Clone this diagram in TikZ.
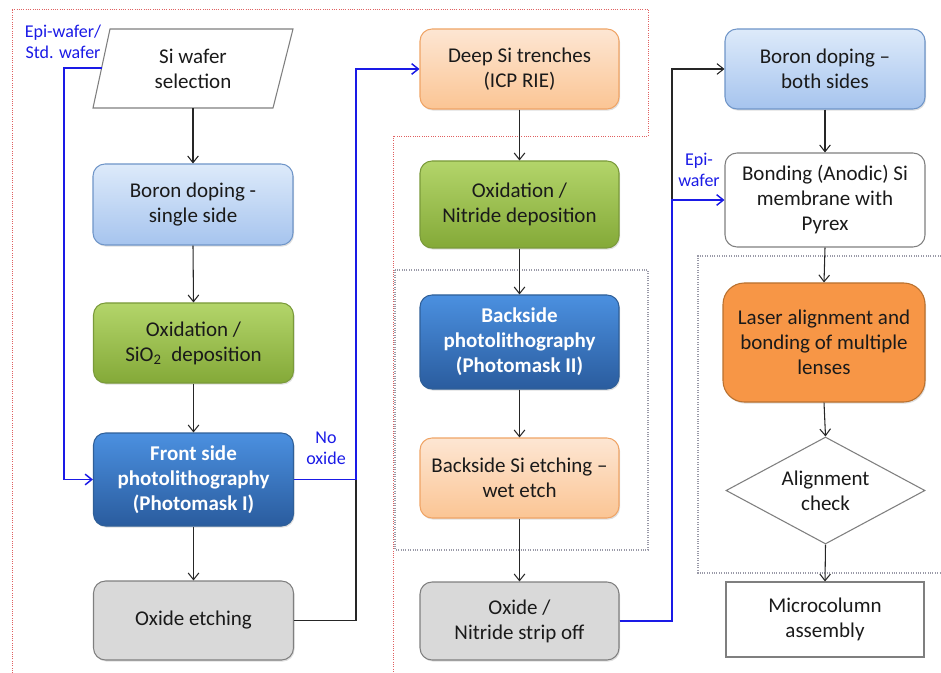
\documentclass[tikz,border=0pt]{standalone}
\usepackage{fontspec}
\setmainfont{Carlito}
\usetikzlibrary{arrows.meta,shapes.geometric,shadows}
\definecolor{lbTop}{HTML}{DDEAFA}
\definecolor{lbBot}{HTML}{A6C4EE}
\definecolor{lbLine}{HTML}{6F95C8}
\definecolor{grTop}{HTML}{B3D56A}
\definecolor{grBot}{HTML}{84A938}
\definecolor{grLine}{HTML}{7A9A3A}
\definecolor{dbTop}{HTML}{4B90E0}
\definecolor{dbBot}{HTML}{2A5C9E}
\definecolor{dbLine}{HTML}{2F5F98}
\definecolor{pcTop}{HTML}{FDE6D3}
\definecolor{pcBot}{HTML}{FBC594}
\definecolor{pcLine}{HTML}{EFA466}
\definecolor{gyFill}{HTML}{D9D9D9}
\definecolor{gyLine}{HTML}{7F7F7F}
\definecolor{orFill}{HTML}{F79646}
\definecolor{orLine}{HTML}{B9712F}
\definecolor{lblBlue}{HTML}{1A1AE6}
\definecolor{txt}{HTML}{1A1A1A}
\definecolor{redDot}{HTML}{E06060}
\definecolor{grayDot}{HTML}{9A9AA8}
\begin{document}
\begin{tikzpicture}[x=0.75pt,y=0.75pt,
  every node/.style={font=\fontsize{15.75}{18.75}\selectfont, align=center, inner sep=0pt, text=txt},
  shd/.style={drop shadow={shadow xshift=0.8pt, shadow yshift=-1.2pt, opacity=0.25}},
  box/.style={rounded corners=9pt, minimum width=150pt, line width=0.8pt},
  lightblue/.style={box, shd, draw=lbLine, top color=lbTop, bottom color=lbBot},
  green/.style={box, shd, draw=grLine, top color=grTop, bottom color=grBot},
  darkblue/.style={box, shd, draw=dbLine, top color=dbTop, bottom color=dbBot, text=white, font=\fontsize{15.75}{18.75}\selectfont\bfseries},
  peach/.style={box, shd, draw=pcLine, top color=pcTop, bottom color=pcBot},
  graybox/.style={box, shd, draw=gyLine, fill=gyFill},
  whitebox/.style={box, draw=gyLine, fill=white},
  lbl/.style={text=lblBlue, font=\fontsize{13.5}{15.5}\selectfont},
  arr/.style={-{Straight Barb[length=5pt,width=8pt]}, line width=0.8pt, draw=black!85},
  barr/.style={-{Straight Barb[length=5pt,width=8pt]}, line width=1.1pt, draw=lblBlue},
  reddot/.style={draw=redDot, densely dotted, line width=0.7pt},
  graydot/.style={draw=grayDot, densely dotted, line width=0.8pt}
]
\useasboundingbox (0,0) rectangle (941,-673);

% dotted groupings
\draw[reddot] (12,-673) -- (12,-9) -- (648,-9) -- (648,-136) -- (393,-136) -- (393,-673);
\draw[graydot] (395,-270) rectangle (648,-550);
\draw[graydot] (941,-256) -- (698,-256) -- (698,-573) -- (941,-573);

% column 1
\draw[draw=gyLine, fill=white, line width=0.8pt] (110,-29) -- (293,-29) -- (273,-108) -- (93,-108) -- cycle;
\node[minimum width=150pt, minimum height=59.25pt] (wafer) at (193,-68.5) {Si wafer\\selection};
\coordinate (waferL) at (101.6,-68);
\node[lightblue, minimum height=60.75pt] (boron1) at (193,-204.5) {Boron doping -\\single side};
\node[green, minimum height=60pt] (oxid1) at (193.5,-343) {Oxidation /\\SiO\textsubscript{2}\ \ deposition};
\node[darkblue, minimum height=69.75pt] (front) at (193.5,-479.5) {Front side\\photolithography\\(Photomask I)};
\node[graybox, minimum height=59.25pt] (etch) at (193.5,-620.5) {Oxide etching};

% column 2
\node[peach, minimum width=149.25pt, minimum height=60pt] (deep) at (519.5,-69) {Deep Si trenches\\(ICP RIE)};
\node[green, minimum width=149.25pt, minimum height=65.25pt] (oxid2) at (519.5,-204.5) {Oxidation /\\Nitride deposition};
\node[darkblue, minimum width=149.25pt, minimum height=70.5pt] (back) at (519.5,-342) {Backside\\photolithography\\(Photomask II)};
\node[peach, minimum width=149.25pt, minimum height=60pt] (wet) at (519.5,-478) {Backside Si etching --\\wet etch};
\node[graybox, minimum width=149.25pt, minimum height=58.5pt] (strip) at (519.5,-621) {Oxide /\\Nitride strip off};

% column 3
\node[lightblue, minimum height=60pt] (boron2) at (825,-69) {Boron doping --\\both sides};
\node[whitebox, minimum height=70.5pt] (bond) at (825,-200) {Bonding (Anodic) Si\\membrane with\\Pyrex};
\node[box, shd, rounded corners=16pt, draw=orLine, fill=orFill, minimum width=151.5pt, minimum height=89.25pt] (laser) at (824,-342.5) {Laser alignment and\\bonding of multiple\\lenses};
\node[diamond, aspect=1.86, draw=gyLine, fill=white, line width=0.8pt, minimum width=149.25pt, minimum height=80.25pt] (check) at (825.5,-490.5) {Alignment\\check};
\node[draw=gyLine, fill=white, line width=0.8pt, minimum width=148.5pt, minimum height=56.25pt] (micro) at (825,-619.5) {Microcolumn\\assembly};

% labels
\node[lbl] (lab1) at (63,-42) {Epi-wafer/\\Std. wafer};
\node[lbl] (lab2) at (326,-448) {No\\oxide};
\node[lbl] (lab3) at (699,-170) {Epi-\\wafer};

% helper coordinates
\coordinate (bl1) at (64,-68);
\coordinate (nj) at (356,-479.5);
\coordinate (c3) at (672,-69);
\coordinate (c4) at (672,-200);

% connectors column 1
\draw[arr] (wafer.south) -- (boron1.north);
\draw[arr] (boron1.south) -- (oxid1.north);
\draw[arr] (oxid1.south) -- (front.north);
\draw[arr] (front.south) -- (etch.north);
\draw[barr] (waferL) -- (bl1) |- (front.west);
\draw[arr, -] (etch.east) -| (nj);
\draw[barr] (front.east) -- (nj) |- (deep.west);

% connectors column 2
\draw[arr] (deep.south) -- (oxid2.north);
\draw[arr] (oxid2.south) -- (back.north);
\draw[arr] (back.south) -- (wet.north);
\draw[arr] (wet.south) -- (strip.north);
\draw[arr] (strip.east) -| (c3) -- (boron2.west);
\draw[barr] (strip.east) -| (c4) -- (bond.west);

% connectors column 3
\draw[arr] (boron2.south) -- (bond.north);
\draw[arr] (bond.south) -- (laser.north);
\draw[arr] (laser.south) -- (check.north);
\draw[arr] (check.south) -- (micro.north);
\end{tikzpicture}
\end{document}
